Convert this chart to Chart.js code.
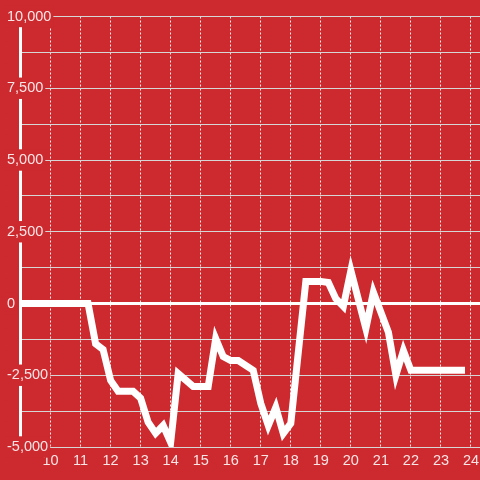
<!DOCTYPE html>
<html>
<head>
<meta charset="utf-8">
<script src="https://cdn.jsdelivr.net/npm/chart.js@4/dist/chart.umd.min.js"></script>
<style>
  html, body { margin: 0; padding: 0; background: #cc2a2f; }
  #chart_1 { display: block; }
</style>
</head>
<body>
<canvas id="chart_1" width="480" height="480"></canvas>
<script>
// hour of the day and the running value at that time
const hours = [8.75, 11.25, 11.5, 11.75, 12, 12.25, 12.75, 13, 13.25, 13.5, 13.75, 14, 14.25, 14.75, 15.25,
    15.5, 15.75, 16, 16.25, 16.75, 17, 17.25, 17.5, 17.75, 18, 18.5, 19, 19.25, 19.5, 19.75, 20, 20.5,
    20.75, 21.25, 21.5, 21.75, 22, 23.8];
const values = [0, 0, -1400, -1600, -2680, -3060, -3060, -3300, -4140, -4520, -4250, -4840, -2440, -2890, -2890,
    -1220, -1850, -1990, -1990, -2330, -3480, -4250, -3620, -4530, -4180, 770, 770, 730, 170, -100, 1150, -870,
    390, -1000, -2500, -1640, -2330, -2330];

const x_ticks = [10, 11, 12, 13, 14, 15, 16, 17, 18, 19, 20, 21, 22, 23, 24];
const y_ticks = [-5000, -3750, -2500, -1250, 0, 1250, 2500, 3750, 5000, 6250, 7500, 8750, 10000];
const y_labelled = [-5000, -2500, 0, 2500, 5000, 7500, 10000];

const bg = '#cc2a2f';
const label_color = 'rgba(255,255,255,0.88)';
const label_font = { family: "'Liberation Sans', Arial, sans-serif", size: 14.5 };

let points = [];
for (let i = 0; i < hours.length; i++) {
    points.push({ x: hours[i], y: values[i] });
}

new Chart("chart_1", {
    type: "line",
    data: {
        datasets: [{
            data: points,
            borderColor: "#ffffff",
            borderWidth: 7,
            borderJoinStyle: "miter",
            pointRadius: 0,
            tension: 0,
            fill: false,
        }],
    },
    options: {
        responsive: false,
        animation: false,
        layout: { padding: { left: 7, top: 16.5, right: 0, bottom: 0 } },
        plugins: { legend: { display: false }, tooltip: { enabled: false } },
        scales: {
            x: {
                type: "linear",
                min: 9,
                max: 24.3,
                afterBuildTicks: (s) => { s.ticks = x_ticks.map(v => ({ value: v })); },
                afterFit: (s) => { s.height = 33; s.paddingLeft = 0; s.paddingRight = 0; },
                grid: { color: "rgba(255,255,255,0.9)", lineWidth: 1, drawTicks: false },
                border: { display: false, dash: [2, 2] },
                ticks: { color: label_color, font: label_font, padding: 5, maxRotation: 0, autoSkip: false },
            },
            y: {
                min: -5000,
                max: 10000,
                afterBuildTicks: (s) => { s.ticks = y_ticks.map(v => ({ value: v })); },
                afterFit: (s) => { s.width = 13.5; s.paddingTop = 0; s.paddingBottom = 0; },
                grid: {
                    color: (c) => (c.tick && c.tick.value === 0) ? "#ffffff" : "#d6d6d6",
                    lineWidth: (c) => (c.tick && c.tick.value === 0) ? 3 : 1,
                    drawTicks: false,
                },
                border: { color: "#ffffff", width: 3 },
                ticks: {
                    color: label_color,
                    font: label_font,
                    mirror: true,
                    crossAlign: "near",
                    padding: -13.5,
                    autoSkip: false,
                    showLabelBackdrop: true,
                    backdropColor: bg,
                    backdropPadding: 2,
                    callback: (v) => y_labelled.includes(v) ? Number(v).toLocaleString("en-US") : "",
                },
            },
        },
    },
});
</script>
</body>
</html>
